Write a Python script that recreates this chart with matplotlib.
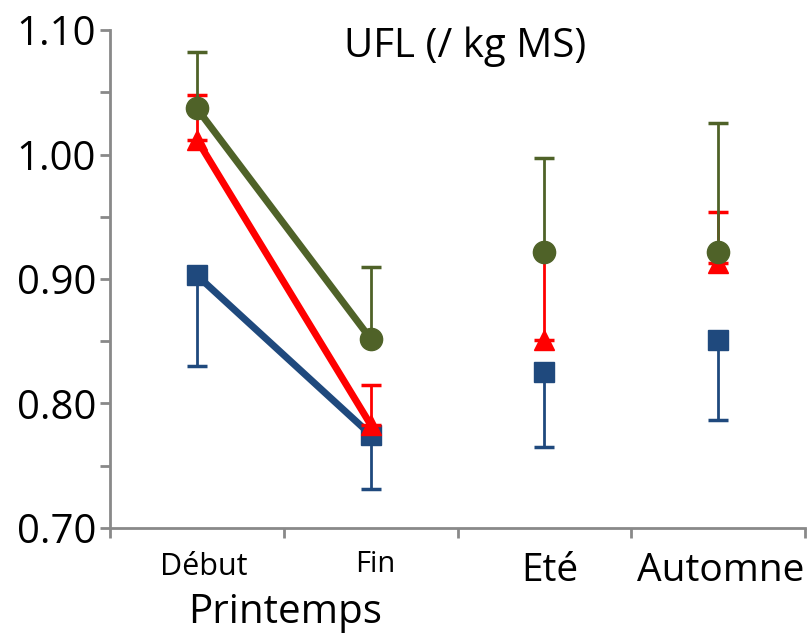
import matplotlib
matplotlib.use("Agg")
import matplotlib.pyplot as plt
import numpy as np

categories = ["Début", "Fin", "Eté", "Automne"]
group_label = "Printemps"
title = "UFL (/ kg MS)"

green_vals = [1.037, 0.852, 0.922, 0.922]
green_err_up = [0.045, 0.058, 0.075, 0.103]

red_vals = [1.012, 0.783, 0.851, 0.913]
red_err_up = [0.036, 0.032, 0.070, 0.041]

blue_vals = [0.903, 0.775, 0.825, 0.851]
blue_err_down = [0.073, 0.044, 0.060, 0.064]

yticks = [0.70, 0.80, 0.90, 1.00, 1.10]

plt.rcParams['font.family'] = ['Open Sans', 'DejaVu Sans']

W, H = 811, 640
fig = plt.figure(figsize=(W/100, H/100), dpi=100)
ax = fig.add_axes([110/W, 1-528/H, 695/W, 498/H])

x = np.arange(len(categories))
axis_col = '#898989'

series = [
    (blue_vals, [blue_err_down, [0]*4], '#1F497D', 's', 15),
    (red_vals, [[0]*4, red_err_up], '#FF0000', '^', 15),
    (green_vals, [[0]*4, green_err_up], '#4F6228', 'o', 16),
]
z = 2
for vals, err, col, mk, ms in series:
    ax.errorbar(x, vals, yerr=err, fmt='none', ecolor=col, elinewidth=2,
                capsize=7, capthick=2.5, zorder=z)
    ax.plot(x[:2], vals[:2], color=col, lw=5, solid_capstyle='butt', zorder=z+0.1)
    ax.plot(x, vals, ls='none', marker=mk, ms=ms, color=col, mec=col, zorder=z+0.2)
    z += 1

ax.set_xlim(-0.5, 3.5)
ax.set_ylim(0.70, 1.10)
ax.set_yticks(yticks)
ax.set_yticklabels([f"{v:.2f}" for v in yticks])
ax.set_yticks(np.arange(0.75, 1.10, 0.1), minor=True)
ax.set_xticks(np.arange(-0.5, 4.0, 1.0))
ax.set_xticklabels([])

for s in ['top', 'right']:
    ax.spines[s].set_visible(False)
for s in ['left', 'bottom']:
    ax.spines[s].set_color(axis_col)
    ax.spines[s].set_linewidth(2)
ax.tick_params(axis='y', which='both', direction='out', length=7, width=2,
               color=axis_col, labelsize=29, pad=3)
ax.tick_params(axis='x', direction='out', length=7, width=2, color=axis_col)

def ptext(px, py, s, size):
    fig.text(px/W, 1-py/H, s, ha='center', va='center', fontsize=size)

ptext(204, 567, categories[0], 22)
ptext(375, 565, categories[1], 21)
ptext(550, 571, categories[2], 28)
ptext(721, 571, categories[3], 28)
ptext(285, 613, group_label, 29)
ptext(465, 47, title, 29)

fig.savefig('out.png', dpi=100)
